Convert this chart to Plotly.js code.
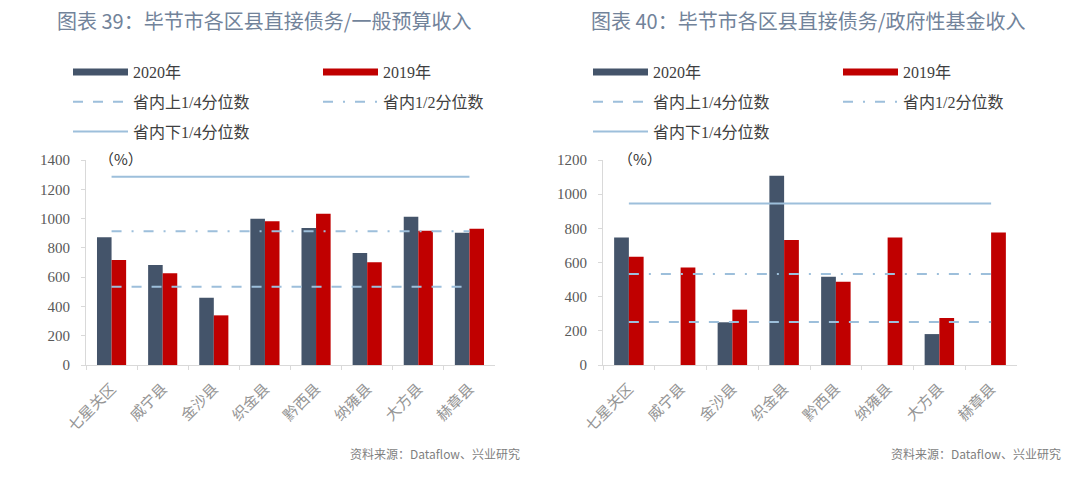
<!DOCTYPE html>
<html>
<head>
<meta charset="utf-8">
<script src="https://cdn.plot.ly/plotly-3.0.1.min.js"></script>
<style>
  html, body { margin: 0; padding: 0; background: #ffffff; }
  #chart { width: 1080px; height: 483px; }
</style>
</head>
<body>
<div id="chart"></div>
<script>
// counties (same for both panels)
const categories = ['七星关区', '威宁县', '金沙县', '织金县', '黔西县', '纳雍县', '大方县', '赫章县'];

// 图表39: 直接债务/一般预算收入 (%)
const budget2020 = [872, 683, 460, 999, 936, 765, 1013, 904];
const budget2019 = [717, 626, 339, 981, 1033, 701, 917, 931];
const budgetUpperQ = 535;   // 省内上1/4分位数
const budgetMedian = 913;   // 省内1/2分位数
const budgetLowerQ = 1286;  // 省内下1/4分位数

// 图表40: 直接债务/政府性基金收入 (%)
const fund2020 = [747, null, 250, 1108, 517, null, 181, null];
const fund2019 = [634, 570, 324, 732, 488, 747, 275, 775];
const fundUpperQ = 252;
const fundMedian = 533;
const fundLowerQ = 946;

const names = ['2020年', '2019年', '省内上1/4分位数', '省内1/2分位数', '省内下1/4分位数'];

const CJK = '"Noto Sans CJK SC", "Noto Sans", sans-serif';
const SERIF = '"Liberation Serif", "Times New Roman", "Noto Sans CJK SC", serif';
const C2020 = '#44546a';
const C2019 = '#c00000';
const CLINE = '#9dbfdb';

// legs = [left column legend, right column legend]
function panel(xa, ya, v2020, v2019, upper, median, lower, legs) {
    const flat = v => categories.map(() => v);
    const g = xa + '-';
    return [
        { type: 'bar', x: categories, y: v2020, xaxis: xa, yaxis: ya, name: names[0],
          marker: { color: C2020 }, showlegend: false, legendgroup: g + 'a' },
        { type: 'bar', x: categories, y: v2019, xaxis: xa, yaxis: ya, name: names[1],
          marker: { color: C2019 }, showlegend: false, legendgroup: g + 'b' },
        // legend swatches for the bars, drawn as thick lines like the original
        { type: 'scatter', mode: 'lines', x: [null], y: [null], xaxis: xa, yaxis: ya, name: names[0],
          line: { color: C2020, width: 7 }, legend: legs[0], legendgroup: g + 'a' },
        { type: 'scatter', mode: 'lines', x: [null], y: [null], xaxis: xa, yaxis: ya, name: names[1],
          line: { color: C2019, width: 7 }, legend: legs[1], legendgroup: g + 'b' },
        { type: 'scatter', mode: 'lines', x: categories, y: flat(upper), xaxis: xa, yaxis: ya, name: names[2],
          line: { color: CLINE, width: 2, dash: '10px,10px' }, legend: legs[0], legendgroup: g + 'c' },
        { type: 'scatter', mode: 'lines', x: categories, y: flat(median), xaxis: xa, yaxis: ya, name: names[3],
          line: { color: CLINE, width: 2, dash: '10px,10px,2px,10px' }, legend: legs[1], legendgroup: g + 'd' },
        { type: 'scatter', mode: 'lines', x: categories, y: flat(lower), xaxis: xa, yaxis: ya, name: names[4],
          line: { color: CLINE, width: 2 }, legend: legs[0], legendgroup: g + 'e' }
    ];
}

const data = [].concat(
    panel('x', 'y', budget2020, budget2019, budgetUpperQ, budgetMedian, budgetLowerQ, ['legend', 'legend2']),
    panel('x2', 'y2', fund2020, fund2019, fundUpperQ, fundMedian, fundLowerQ, ['legend3', 'legend4'])
);

const W = 1080, H = 483;
const px = v => v / W;
const py = v => 1 - v / H;

function xAxis(l, r) {
    return {
        domain: [px(l), px(r)], type: 'category', showline: true, linecolor: '#d9d9d9', linewidth: 1,
        ticks: 'outside', tickson: 'boundaries', ticklen: 4, tickcolor: '#d9d9d9', ticklabelstandoff: 8,
        tickangle: -45, tickfont: { family: CJK, size: 15, color: '#959595' }, showgrid: false, fixedrange: true
    };
}
function yAxis(max, anchor) {
    return {
        domain: [py(365), py(160)], range: [0, max], dtick: 200, showgrid: false, zeroline: false,
        showline: true, linecolor: '#d9d9d9', ticks: 'outside', ticklen: 4, tickcolor: '#d9d9d9',
        ticklabelstandoff: 8, tickfont: { family: SERIF, size: 15, color: '#595959' }, anchor: anchor
    };
}
function leg(x, y) {
    return {
        x: px(x), y: py(y), xanchor: 'left', yanchor: 'top', orientation: 'v',
        itemwidth: 55, tracegroupgap: 6, bgcolor: 'rgba(0,0,0,0)', traceorder: 'grouped',
        font: { family: SERIF, size: 16, color: '#404040' }, itemclick: false, itemdoubleclick: false
    };
}

const layout = {
    width: W, height: H,
    margin: { l: 0, r: 0, t: 0, b: 0 },
    paper_bgcolor: '#ffffff', plot_bgcolor: '#ffffff',
    bargap: 0.43, bargroupgap: 0,
    xaxis: Object.assign(xAxis(86, 495), { anchor: 'y' }),
    yaxis: yAxis(1400, 'x'),
    xaxis2: Object.assign(xAxis(603, 1017), { anchor: 'y2' }),
    yaxis2: yAxis(1200, 'x2'),
    legend: leg(68, 55), legend2: leg(318, 55),
    legend3: leg(588, 55), legend4: leg(838, 55),
    annotations: [
        { text: '图表 39：毕节市各区县直接债务/一般预算收入', xref: 'paper', yref: 'paper', x: px(55), y: py(21),
          xanchor: 'left', yanchor: 'middle', showarrow: false, font: { family: CJK, size: 20, color: '#72839a' } },
        { text: '图表 40：毕节市各区县直接债务/政府性基金收入', xref: 'paper', yref: 'paper', x: px(589), y: py(21),
          xanchor: 'left', yanchor: 'middle', showarrow: false, font: { family: CJK, size: 20, color: '#72839a' } },
        { text: '（%）', xref: 'paper', yref: 'paper', x: px(97), y: py(158), xanchor: 'left', yanchor: 'middle',
          showarrow: false, font: { family: CJK, size: 15, color: '#333333' } },
        { text: '（%）', xref: 'paper', yref: 'paper', x: px(616), y: py(158), xanchor: 'left', yanchor: 'middle',
          showarrow: false, font: { family: CJK, size: 15, color: '#333333' } },
        { text: '资料来源：Dataflow、兴业研究', xref: 'paper', yref: 'paper', x: px(522), y: py(453),
          xanchor: 'right', yanchor: 'middle', showarrow: false, font: { family: CJK, size: 12, color: '#7f7f7f' } },
        { text: '资料来源：Dataflow、兴业研究', xref: 'paper', yref: 'paper', x: px(1063), y: py(453),
          xanchor: 'right', yanchor: 'middle', showarrow: false, font: { family: CJK, size: 12, color: '#7f7f7f' } }
    ]
};

Plotly.newPlot('chart', data, layout, { displayModeBar: false, staticPlot: true });
</script>
</body>
</html>
